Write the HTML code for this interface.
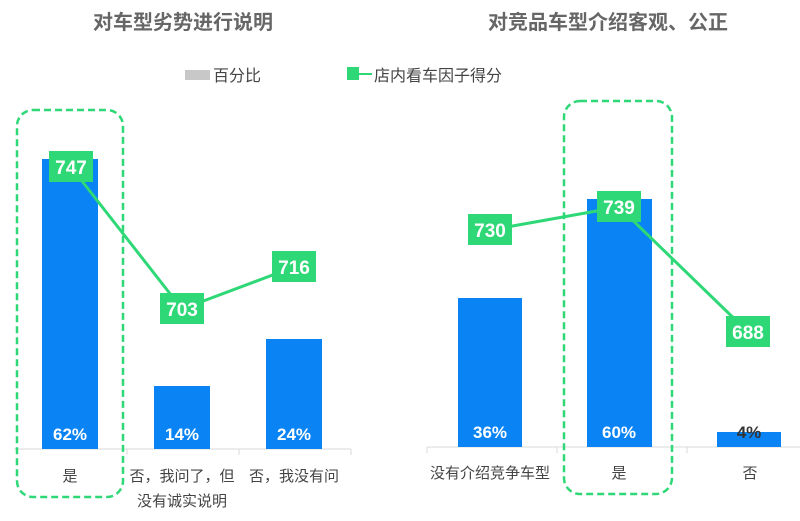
<!DOCTYPE html>
<html><head><meta charset="utf-8"><style>
body{margin:0;background:#fff}
text{font-family:"Liberation Sans","Noto Sans CJK SC",sans-serif}
</style></head><body>
<svg width="800" height="516" viewBox="0 0 800 516" xmlns="http://www.w3.org/2000/svg">
<g font-size="20" font-weight="bold" fill="#666" text-anchor="middle">
<text x="183" y="29">对车型劣势进行说明</text>
<text x="608" y="29">对竞品车型介绍客观、公正</text>
</g>
<rect x="185" y="70" width="25" height="10" fill="#c8c8c8"/>
<text x="213" y="81" font-size="16" fill="#444">百分比</text>
<rect x="347" y="67" width="12" height="13" fill="#2fd876"/>
<line x1="359" y1="74" x2="372" y2="74" stroke="#2fd876" stroke-width="2"/>
<text x="374" y="81" font-size="16" fill="#444">店内看车因子得分</text>
<!-- axes -->
<g stroke="#d9d9d9" stroke-width="1">
<line x1="14" y1="449" x2="351" y2="449"/>
<line x1="127" y1="449" x2="127" y2="455"/><line x1="239" y1="449" x2="239" y2="455"/><line x1="351" y1="449" x2="351" y2="455"/>
<line x1="427" y1="447" x2="800" y2="447"/>
<line x1="427" y1="447" x2="427" y2="453"/><line x1="557" y1="447" x2="557" y2="453"/><line x1="687" y1="447" x2="687" y2="453"/>
</g>
<g fill="#0a84f4">
<rect x="42" y="159" width="56" height="290"/>
<rect x="154" y="386" width="56" height="63"/>
<rect x="266" y="339" width="56" height="110"/>
<rect x="458" y="298" width="64" height="149"/>
<rect x="587" y="199" width="65" height="248"/>
<rect x="717" y="432" width="64" height="15"/>
</g>
<g font-size="17" font-weight="bold" fill="#fff" text-anchor="middle">
<text x="70" y="440">62%</text><text x="182" y="440">14%</text><text x="294" y="440">24%</text>
<text x="490" y="438">36%</text><text x="619" y="438">60%</text><text x="749" y="438" fill="#333">4%</text>
</g>
<g fill="none" stroke="#2fd876" stroke-width="3">
<polyline points="71,167 182,309 294,267"/>
<polyline points="490,230 619,207 748,332"/>
</g>
<g fill="none" stroke="#2fd876" stroke-width="2.5" stroke-dasharray="7,4">
<rect x="17" y="110" width="106" height="387" rx="16"/>
<rect x="564" y="101" width="108" height="393" rx="16"/>
</g>
<g fill="#2fd876">
<rect x="49" y="151" width="44" height="31"/>
<rect x="160" y="293" width="44" height="31"/>
<rect x="272" y="251" width="44" height="31"/>
<rect x="468" y="214" width="44" height="31"/>
<rect x="597" y="191" width="44" height="31"/>
<rect x="726" y="316" width="44" height="31"/>
</g>
<g font-size="19" font-weight="bold" fill="#fff" text-anchor="middle">
<text x="71" y="174">747</text><text x="182" y="316">703</text><text x="294" y="274">716</text>
<text x="490" y="237">730</text><text x="619" y="214">739</text><text x="748" y="339">688</text>
</g>
<g font-size="15" fill="#444" text-anchor="middle">
<text x="70" y="481">是</text>
<text x="182" y="481">否，我问了，但</text>
<text x="182" y="506">没有诚实说明</text>
<text x="294" y="481">否，我没有问</text>
<text x="490" y="478">没有介绍竞争车型</text>
<text x="619" y="478">是</text>
<text x="750" y="478">否</text>
</g>
</svg>
</body></html>
